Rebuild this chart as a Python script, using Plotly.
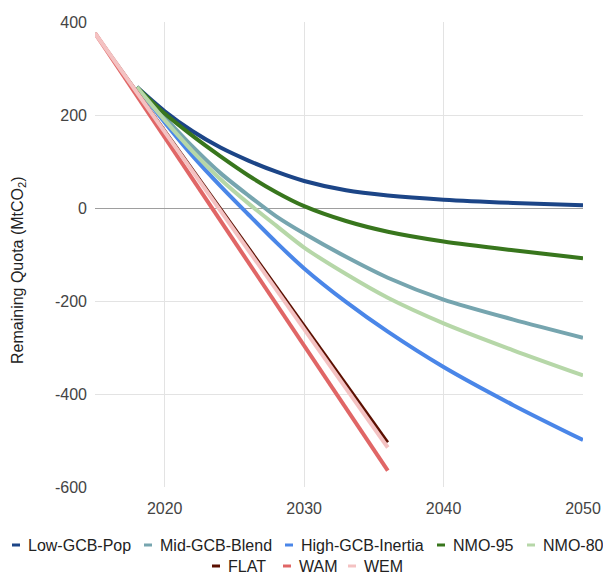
import plotly.graph_objects as go

# ---------------- data ----------------
curve_years = [2018, 2020, 2022, 2024, 2026, 2028, 2030, 2033, 2036, 2040, 2045, 2050]
low_gcb_pop = [260, 208, 165, 130, 102, 78, 58, 38, 27, 18, 11, 6]
mid_gcb_blend = [260, 195, 132, 75, 27, -18, -55, -105, -150, -197, -240, -279]
high_gcb_inertia = [260, 184, 112, 47, -14, -74, -130, -202, -266, -342, -424, -499]
nmo_95 = [260, 203, 155, 111, 70, 34, 4, -28, -51, -72, -91, -108]
nmo_80 = [260, 189, 122, 62, 10, -38, -85, -142, -193, -248, -306, -360]

line_years = [2015, 2036]
flat = [376, -504]
wam = [376, -565]
wem = [376, -515]

series_names = ["Low-GCB-Pop", "Mid-GCB-Blend", "High-GCB-Inertia", "NMO-95", "NMO-80",
                "FLAT", "WAM", "WEM"]
series_x = [curve_years] * 5 + [line_years] * 3
series_y = [low_gcb_pop, mid_gcb_blend, high_gcb_inertia, nmo_95, nmo_80, flat, wam, wem]
series_colors = ["#1c4587", "#76a5af", "#4a86e8", "#38761d", "#b6d7a8",
                 "#5b0f00", "#e06666", "#f4c2c2"]
series_widths = [4, 4, 4, 4, 4, 3, 4, 4]

x_ticks = [2020, 2030, 2040, 2050]
y_ticks = [-600, -400, -200, 0, 200, 400]
y_title = "Remaining Quota (MtCO<sub>2</sub>)"

# ---------------- layout helpers ----------------
W, H = 603, 574
X_L, X_R, Y_T, Y_B = 95, 583, 22, 487
FONT = "Liberation Sans, Arial, sans-serif"


def px_x(p):
    return (p - X_L) / (X_R - X_L)


def px_y(p):
    return (Y_B - p) / (Y_B - Y_T)


fig = go.Figure()
for name, xs, ys, col, w in zip(series_names, series_x, series_y, series_colors, series_widths):
    fig.add_trace(go.Scatter(
        x=xs, y=ys, name=name, mode="lines",
        line=dict(color=col, width=w, shape="spline", smoothing=0.8),
        showlegend=False,
    ))

# legend built as real text + short coloured dashes
legend_rows = [0, 0, 0, 0, 0, 1, 1, 1]
legend_dash_x = [12, 144, 285, 437, 527, 212, 283, 348]
legend_row_y = [545, 566]
shapes = []
annotations = []
for name, col, row, dx in zip(series_names, series_colors, legend_rows, legend_dash_x):
    yy = legend_row_y[row]
    shapes.append(dict(type="line", xref="paper", yref="paper",
                       x0=px_x(dx), x1=px_x(dx + 8), y0=px_y(yy), y1=px_y(yy),
                       line=dict(color=col, width=3)))
    annotations.append(dict(text=name, xref="paper", yref="paper",
                            x=px_x(dx + 14), y=px_y(yy), xanchor="left", yanchor="middle",
                            showarrow=False, font=dict(family=FONT, size=16, color="#222222")))

annotations.append(dict(text=y_title, xref="paper", yref="paper",
                        x=px_x(18), y=px_y(270), xanchor="center", yanchor="middle",
                        textangle=-90, showarrow=False,
                        font=dict(family=FONT, size=16, color="#222222")))

fig.update_layout(
    width=W, height=H,
    margin=dict(l=X_L, r=W - X_R, t=Y_T, b=H - Y_B, pad=0),
    paper_bgcolor="white", plot_bgcolor="white",
    font=dict(family=FONT, size=16, color="#444444"),
    shapes=shapes, annotations=annotations,
    showlegend=False,
)
fig.update_xaxes(range=[2015, 2050], tickvals=x_ticks, ticktext=[str(t) for t in x_ticks],
                 showgrid=True, gridcolor="#e3e3e3", gridwidth=1, zeroline=False,
                 showline=False, ticks="", ticklabelstandoff=10, automargin=False,
                 tickfont=dict(family=FONT, size=16, color="#444444"))
fig.update_yaxes(range=[-600, 400], tickvals=y_ticks, ticktext=[str(t) for t in y_ticks],
                 showgrid=True, gridcolor="#e3e3e3", gridwidth=1,
                 zeroline=True, zerolinecolor="#9e9e9e", zerolinewidth=1,
                 showline=False, ticks="", ticklabelstandoff=7, automargin=False,
                 tickfont=dict(family=FONT, size=16, color="#444444"))

fig.write_html("out.html", config={"displayModeBar": False},
               post_script="document.body.style.margin='0';")
